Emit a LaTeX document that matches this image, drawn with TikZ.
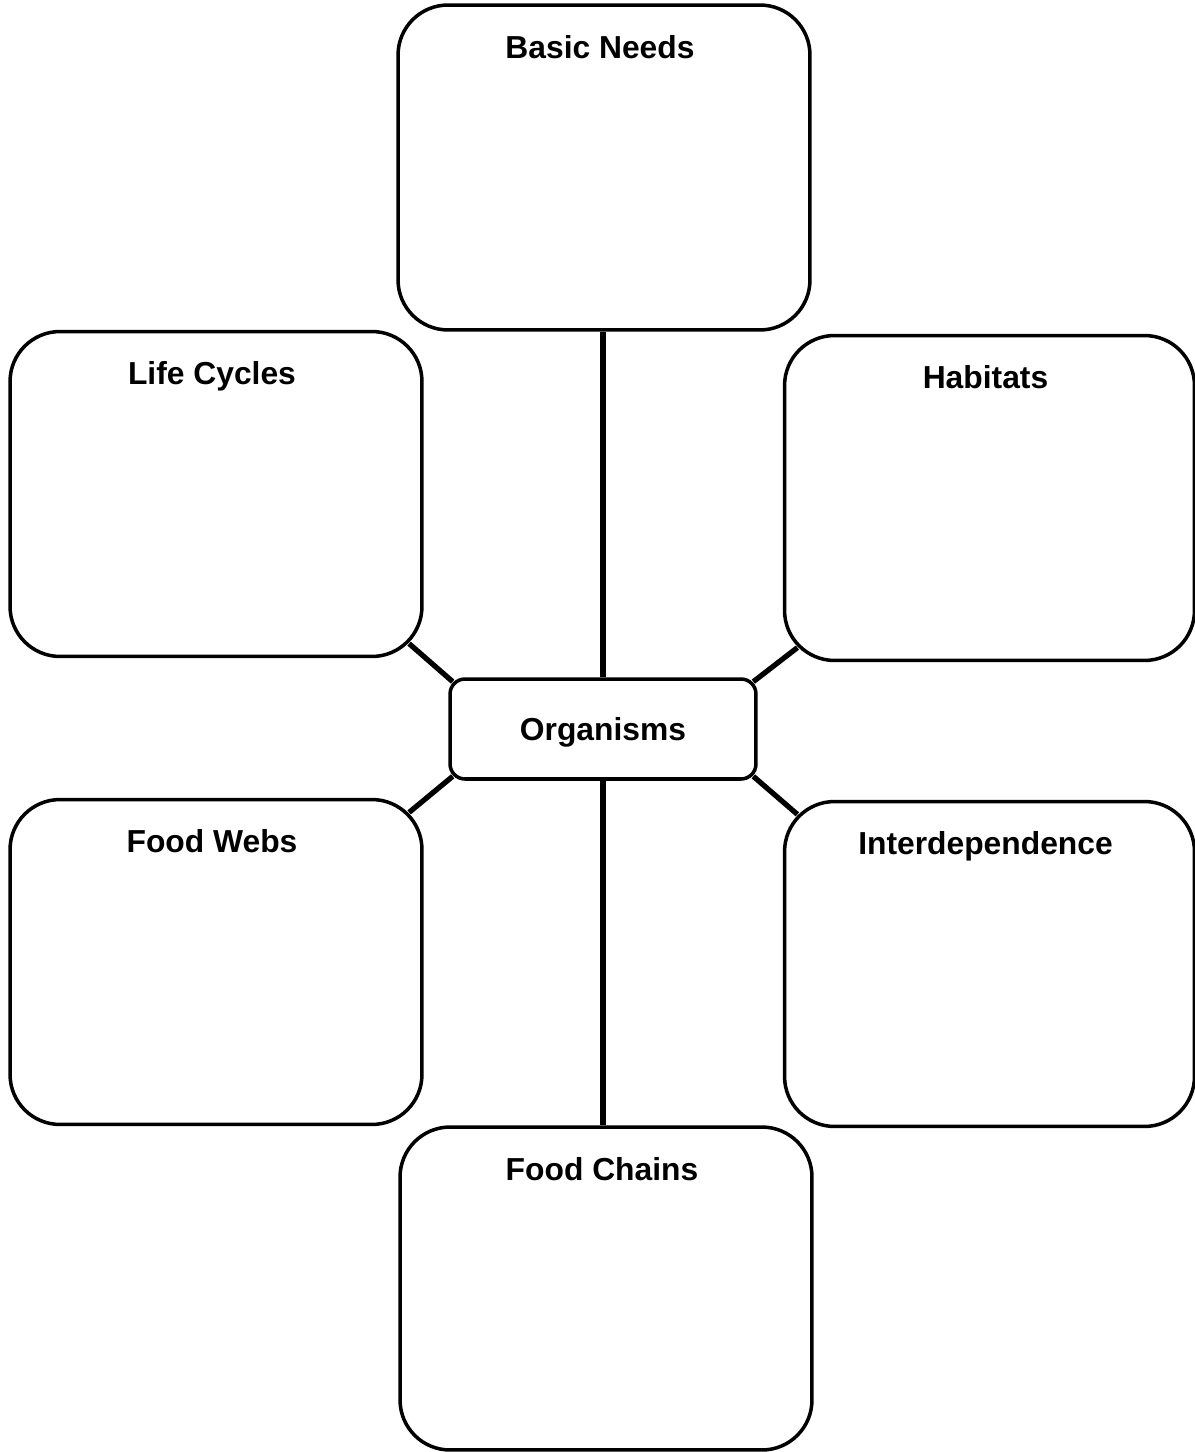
\documentclass[tikz,border=0pt]{standalone}
\usepackage{fontspec}
\setmainfont{Liberation Sans}
\usetikzlibrary{calc}
\usetikzlibrary{positioning}

\begin{document}
\begin{tikzpicture}[
            x=0.02cm, y=-0.02cm,
            topic/.style={rectangle, draw, line width=2pt, fill=white, rounded corners=1cm, minimum width=8.24cm, minimum height=6.5cm},
            hub/.style={rectangle, draw, line width=2pt, fill=white, rounded corners=0.3cm, minimum width=6.12cm, minimum height=2cm, text depth=0pt, font=\fontsize{18.1}{22}\selectfont\bfseries},
            title/.style={anchor=base, font=\fontsize{18.1}{22}\selectfont\bfseries},
            link/.style={line width=3pt}
        ]
            \useasboundingbox (0,0) rectangle (1195,1452);

            \node[topic] (needs) at (604,167.5) {};
            \node[topic] (cycles) at (216,494) {};
            \node[topic, minimum width=8.2cm] (habitats) at (989.5,498) {};
            \node[hub] (org) at (603,729) {Organisms};
            \node[topic] (webs) at (216,962) {};
            \node[topic, minimum width=8.2cm] (inter) at (989.5,964) {};
            \node[topic, minimum height=6.46cm] (chains) at (606,1288.5) {};

            \node[title] (needs-t) at ([xshift=-0.08cm, yshift=-1.1cm]needs.north) {Basic Needs};
            \node[title] (cycles-t) at ([xshift=-0.08cm, yshift=-1.1cm]cycles.north) {Life Cycles};
            \node[title] (habitats-t) at ([xshift=-0.08cm, yshift=-1.1cm]habitats.north) {Habitats};
            \node[title] (webs-t) at ([xshift=-0.08cm, yshift=-1.1cm]webs.north) {Food Webs};
            \node[title] (inter-t) at ([xshift=-0.08cm, yshift=-1.1cm]inter.north) {Interdependence};
            \node[title] (chains-t) at ([xshift=-0.08cm, yshift=-1.1cm]chains.north) {Food Chains};

            \draw[link] (org.north) -- (org.north |- needs.south);
            \draw[link] (org.south) -- (org.south |- chains.north);
            \draw[link] ([shift={(-14.6,-14.6)}]cycles.south east) -- ([shift={(4.4,4.4)}]org.north west);
            \draw[link] ([shift={(14.6,-14.6)}]habitats.south west) -- ([shift={(-4.4,4.4)}]org.north east);
            \draw[link] ([shift={(-14.6,14.6)}]webs.north east) -- ([shift={(4.4,-4.4)}]org.south west);
            \draw[link] ([shift={(14.6,14.6)}]inter.north west) -- ([shift={(-4.4,-4.4)}]org.south east);
        \end{tikzpicture}
\end{document}
